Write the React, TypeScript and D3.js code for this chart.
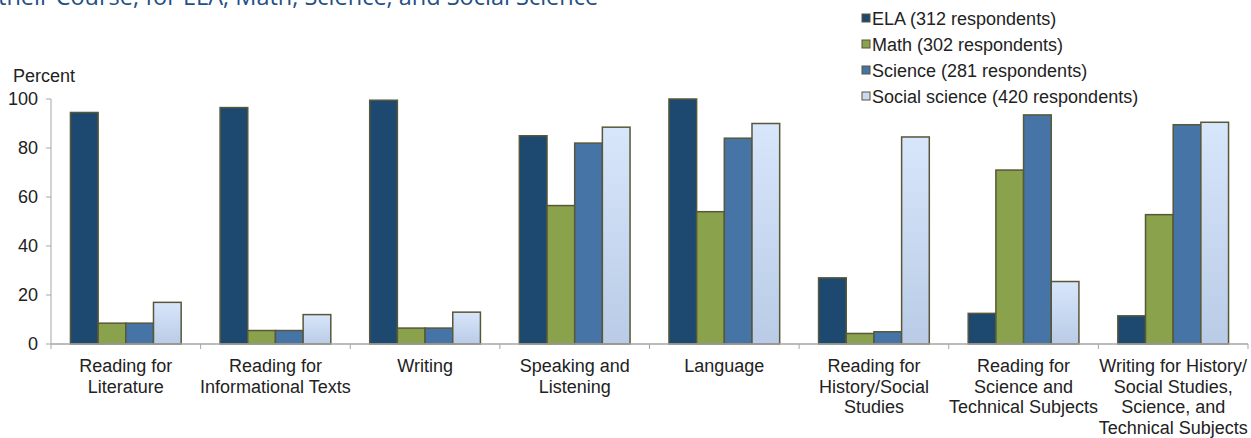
import React from "react";
import * as d3 from "d3";

const categories: string[][] = [
  ["Reading for", "Literature"],
  ["Reading for", "Informational Texts"],
  ["Writing"],
  ["Speaking and", "Listening"],
  ["Language"],
  ["Reading for", "History/Social", "Studies"],
  ["Reading for", "Science and", "Technical Subjects"],
  ["Writing for History/", "Social Studies,", "Science, and", "Technical Subjects"],
];
const seriesNames = [
  "ELA (312 respondents)",
  "Math (302 respondents)",
  "Science (281 respondents)",
  "Social science (420 respondents)",
];
const elaValues = [94.5, 96.5, 99.5, 85, 100, 27, 12.5, 11.5];
const mathValues = [8.5, 5.5, 6.5, 56.5, 54, 4.3, 71, 52.8];
const scienceValues = [8.5, 5.5, 6.5, 82, 84, 5, 93.5, 89.5];
const socialValues = [17, 12, 13, 88.5, 90, 84.5, 25.5, 90.5];
const yTicks = [0, 20, 40, 60, 80, 100];

const seriesValues = [elaValues, mathValues, scienceValues, socialValues];
const fills = ["#1d4870", "#8aa24c", "#4774a6", "url(#socialGrad)"];
const legendFills = ["#1d4870", "#8aa24c", "#4774a6", "#cbdaf0"];
const FONT = "'Liberation Sans', Arial, Helvetica, sans-serif";

export default function App() {
  const W = 1251, H = 438;
  const left = 51, right = 1248, top = 99, bottom = 344;
  const x0 = d3.scaleBand<number>().domain(d3.range(categories.length)).range([left, right]).paddingInner(0.26).paddingOuter(0.13);
  const x1 = d3.scaleBand<number>().domain(d3.range(4)).range([0, x0.bandwidth()]);
  const y = d3.scaleLinear().domain([0, 100]).range([bottom, top]);
  const step = x0.step();
  const boundaries = d3.range(categories.length + 1).map((i) => left + i * step);

  return (
    <svg width={W} height={H} style={{ position: "absolute", left: 0, top: 0, display: "block" }}>
      <defs>
        <linearGradient id="socialGrad" x1="0" y1="0" x2="0" y2="1">
          <stop offset="0%" stopColor="#d8e6fb" />
          <stop offset="100%" stopColor="#b9cbe6" />
        </linearGradient>
      </defs>
      <rect width={W} height={H} fill="#fff" />
      <text x={-2} y={5} fontFamily="'Open Sans', sans-serif" fontSize={23.5} fill="#1f5086">
        their Course, for ELA, Math, Science, and Social Science
      </text>

      {/* y axis */}
      <line x1={left} x2={left} y1={top} y2={bottom} stroke="#a6a6a6" strokeWidth={1} />
      {yTicks.map((t) => (
        <g key={t}>
          <line x1={left - 5} x2={left} y1={y(t)} y2={y(t)} stroke="#a6a6a6" />
          <text x={38} y={y(t)} dy="0.35em" textAnchor="end" fontFamily={FONT} fontSize={18} fill="#222">
            {t}
          </text>
        </g>
      ))}
      <text x={13} y={82} fontFamily={FONT} fontSize={18} fill="#222">Percent</text>

      {/* bars */}
      {categories.map((_, ci) =>
        seriesValues.map((vals, si) => (
          <rect
            key={`${ci}-${si}`}
            x={(x0(ci) as number) + (x1(si) as number)}
            y={y(vals[ci])}
            width={x1.bandwidth()}
            height={bottom - y(vals[ci])}
            fill={fills[si]}
            stroke="#57573a"
            strokeWidth={1.5}
          />
        ))
      )}

      {/* x axis */}
      <line x1={left} x2={right} y1={bottom} y2={bottom} stroke="#a6a6a6" strokeWidth={1.5} />
      {boundaries.map((b, i) => (
        <line key={i} x1={b} x2={b} y1={bottom} y2={bottom + 5} stroke="#a6a6a6" />
      ))}
      {categories.map((lines, ci) => (
        <text key={ci} textAnchor="middle" fontFamily={FONT} fontSize={18} fill="#222">
          {lines.map((l, li) => (
            <tspan key={li} x={(x0(ci) as number) + x0.bandwidth() / 2} y={372 + li * 20.5}>
              {l}
            </tspan>
          ))}
        </text>
      ))}

      {/* legend */}
      {seriesNames.map((n, i) => (
        <g key={n}>
          <rect x={862} y={14 + i * 26} width={8} height={8} fill={legendFills[i]} stroke="#57573a" strokeWidth={1} />
          <text x={872} y={19 + i * 26} dy="0.35em" fontFamily={FONT} fontSize={18} fill="#222">
            {n}
          </text>
        </g>
      ))}
    </svg>
  );
}
